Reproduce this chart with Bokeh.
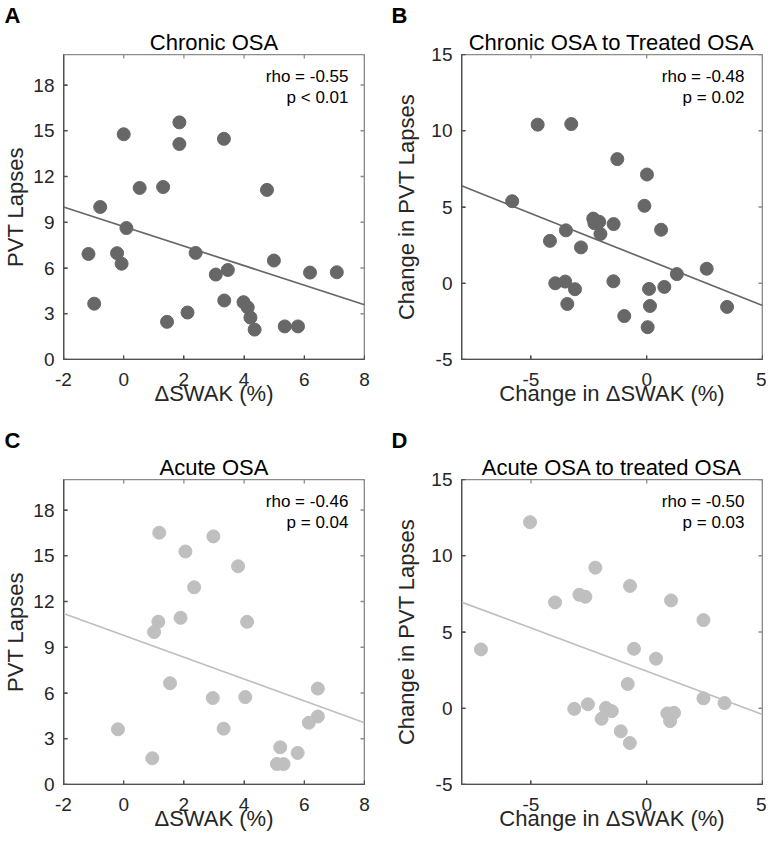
from bokeh.plotting import figure
from bokeh.models import Label, Range1d, FixedTicker, Title
from bokeh.layouts import gridplot
from bokeh.embed import file_html
from bokeh.resources import INLINE

# ---------------- data ----------------
a_x = [-1.17, -0.98, -0.78, -0.22, -0.07, 0.00, 0.09, 0.53, 1.31, 1.44, 1.85, 1.85, 2.12, 2.39,
       3.06, 3.33, 3.34, 3.46, 3.98, 4.12, 4.21, 4.35, 4.76, 4.99, 5.35, 5.79, 6.19, 7.08]
a_y = [6.92, 3.66, 10.00, 6.97, 6.28, 14.77, 8.62, 11.25, 11.31, 2.47, 15.55, 14.13, 3.08, 6.99,
       5.57, 14.47, 3.87, 5.87, 3.76, 3.42, 2.75, 1.96, 11.12, 6.49, 2.17, 2.17, 5.70, 5.72]
a_fit = (8.72, -0.641)   # intercept, slope

b_x = [-5.81, -4.71, -3.26, -4.18, -3.49, -2.84, -3.95, -3.52, -3.10, -3.43, -2.31, -2.26, -2.05, -2.00,
       -1.43, -1.27, -1.44, -0.97, -0.10, 0.01, 0.10, 0.14, 0.04, 0.62, 0.76, 1.30, 2.59, 3.47]
b_y = [5.38, 10.40, 10.44, 2.78, 3.47, 2.35, 0.00, 0.11, -0.39, -1.36, 4.24, 3.94, 4.03, 3.23,
       3.88, 8.14, 0.13, -2.15, 5.08, 7.13, -0.37, -1.49, -2.88, 3.51, -0.24, 0.60, 0.95, -1.55]
b_fit = (1.558, -0.604)

c_x = [-0.19, 0.95, 1.01, 1.15, 1.18, 1.54, 1.89, 2.05, 2.34, 2.96, 2.98, 3.32, 3.80, 4.04, 4.10,
       5.20, 5.09, 5.31, 5.78, 6.15, 6.45, 6.45]
c_y = [3.62, 1.72, 10.00, 10.67, 16.51, 6.64, 10.93, 15.28, 12.93, 5.67, 16.27, 3.66, 14.31, 5.73, 10.67,
       2.44, 1.34, 1.34, 2.07, 4.05, 4.46, 6.29]
c_fit = (9.78, -0.716)

d_x = [-7.16, -5.04, -3.96, -2.91, -2.65, -2.22, -3.13, -2.54, -1.95, -1.76, -1.51, -1.12, -0.73, -0.82,
       -0.72, -0.55, 0.40, 0.89, 1.01, 1.18, 1.05, 2.45, 2.45, 3.36]
d_y = [3.86, 12.20, 6.94, 7.44, 7.31, 9.22, -0.04, 0.26, -0.69, 0.02, -0.19, -1.51, -2.28, 1.59,
       8.02, 3.90, 3.25, -0.34, -0.84, -0.30, 7.07, 5.78, 0.65, 0.34]
d_fit = (2.425, -0.567)

ticks_x_ac = [-2, 0, 2, 4, 6, 8]
ticks_y_ac = [0, 3, 6, 9, 12, 15, 18]
ticks_x_bd = [-5, 0, 5]
ticks_y_bd = [-5, 0, 5, 10, 15]

stats_a = ["rho = -0.55", "p < 0.01"]
stats_b = ["rho = -0.48", "p = 0.02"]
stats_c = ["rho = -0.46", "p = 0.04"]
stats_d = ["rho = -0.50", "p = 0.03"]

DARK = "#676767"
LIGHT = "#bfbfbf"
AXC = "#505050"
BOXC = "#8c8c8c"
TXT = "#262626"
FW, FH = 301, 305
TICK = 4


def panel(letter, title, xs, ys, fit, color, xr, yr, xt, yt, xlabel, ylabel, stats, sx,
          bl, br, bt, bb, ystd):
    p = figure(frame_width=FW, frame_height=FH, output_backend="svg", toolbar_location=None,
               x_range=Range1d(*xr), y_range=Range1d(*yr), title=None,
               min_border_left=bl, min_border_right=br, min_border_top=bt, min_border_bottom=bb)
    p.outline_line_color = BOXC
    p.grid.visible = False

    p.add_layout(Title(text=title, align="center", text_font_size="22px",
                       text_font_style="normal", text_color="black", standoff=0), "above")
    p.add_layout(Title(text=letter, align="left", offset=-(bl - 3),
                       text_font_size="22px", text_font_style="bold", text_color="black",
                       standoff=0), "above")

    for ax, ticks, lab, lstd, astd in ((p.xaxis[0], xt, xlabel, 13, -8),
                                       (p.yaxis[0], yt, ylabel, 9, ystd)):
        ax.ticker = FixedTicker(ticks=ticks)
        ax.major_label_overrides = {t: str(t) for t in ticks}
        ax.axis_label = lab
        ax.axis_label_text_font_size = "22px"
        ax.axis_label_text_font_style = "normal"
        ax.axis_label_text_color = TXT
        ax.axis_label_standoff = astd
        ax.major_label_text_font_size = "19px"
        ax.major_label_text_color = TXT
        ax.major_label_standoff = lstd
        ax.major_tick_in = TICK
        ax.major_tick_out = 0
        ax.minor_tick_line_color = None
        ax.major_tick_line_color = AXC
        ax.axis_line_color = AXC

    # box (from the ranges) and inward ticks on all four sides
    x0, x1 = xr
    y0, y1 = yr
    dx = TICK * (x1 - x0) / FW
    dy = TICK * (y1 - y0) / FH
    p.line([x0, x1, x1, x0, x0], [y0, y0, y1, y1, y0], line_color=BOXC, line_width=1.7)
    p.line([x0, x0, x1], [y1, y0, y0], line_color=AXC, line_width=1.7)
    p.segment(x0=xt, y0=[y0] * len(xt), x1=xt, y1=[y0 + dy] * len(xt), line_color=AXC, line_width=1.3)
    p.segment(x0=xt, y0=[y1] * len(xt), x1=xt, y1=[y1 - dy] * len(xt), line_color=BOXC, line_width=1.3)
    p.segment(x0=[x0] * len(yt), y0=yt, x1=[x0 + dx] * len(yt), y1=yt, line_color=AXC, line_width=1.3)
    p.segment(x0=[x1] * len(yt), y0=yt, x1=[x1 - dx] * len(yt), y1=yt, line_color=BOXC, line_width=1.3)

    # least-squares line, spanning the axes
    p.line([x0, x1], [fit[0] + fit[1] * x0, fit[0] + fit[1] * x1], line_color=color, line_width=1.7)
    p.scatter(xs, ys, size=13, fill_color=color, line_color=color)

    for i, s in enumerate(stats):
        p.add_layout(Label(x=x1, y=y1, x_offset=-sx, y_offset=-22 - 21 * i, text=s,
                           text_align="right", text_baseline="middle",
                           text_font_size="17px", text_color="black"))
    return p


pa = panel("A", "Chronic OSA", a_x, a_y, a_fit, DARK, (-2, 8), (0, 20), ticks_x_ac, ticks_y_ac,
           "\u0394SWAK (%)", "PVT Lapses", stats_a, 16, 62, 24, 48, 66, 2)
pb = panel("B", "Chronic OSA to Treated OSA", b_x, b_y, b_fit, DARK, (-8, 5), (-5, 15), ticks_x_bd,
           ticks_y_bd, "Change in \u0394SWAK (%)", "Change in PVT Lapses", stats_b, 18,
           73, 4, 48, 66, 9)
pc = panel("C", "Acute OSA", c_x, c_y, c_fit, LIGHT, (-2, 8), (0, 20), ticks_x_ac, ticks_y_ac,
           "\u0394SWAK (%)", "PVT Lapses", stats_c, 16, 62, 24, 48, 54, 2)
pd = panel("D", "Acute OSA to treated OSA", d_x, d_y, d_fit, LIGHT, (-8, 5), (-5, 15), ticks_x_bd,
           ticks_y_bd, "Change in \u0394SWAK (%)", "Change in PVT Lapses", stats_d, 18,
           73, 4, 48, 54, 9)

grid = gridplot([[pa, pb], [pc, pd]], toolbar_location=None)

open("out.html", "w").write(file_html(grid, INLINE))
